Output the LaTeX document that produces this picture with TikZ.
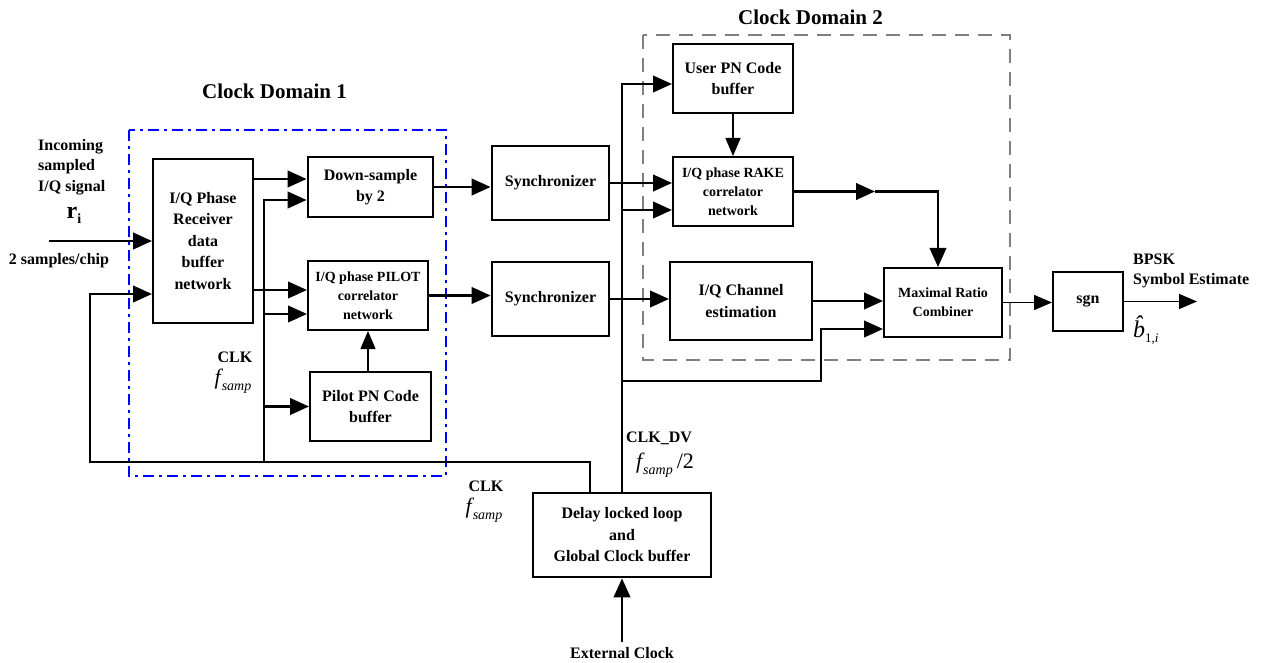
\documentclass[tikz,border=0pt]{standalone}
\usepackage{fontspec}
\setmainfont{Liberation Serif}
\usetikzlibrary{arrows.meta}
% sampling-frequency symbol f_samp
\newcommand{\fsampsym}{{\fontsize{22}{22}\selectfont\mdseries\itshape f}\kern1pt\raisebox{-6pt}{\fontsize{14}{14}\selectfont\mdseries\itshape samp}}
\begin{document}
\begin{tikzpicture}[x=1pt,y=-1pt,
  box/.style={draw, line width=2pt, inner sep=0pt, align=center,
    font=\fontsize{16}{21.5}\selectfont\bfseries},
  heavybox/.style={box, line width=2.8pt},
  smallbox/.style={box, font=\fontsize{14}{19}\selectfont\bfseries},
  wire/.style={line width=2.5pt, line join=miter},
  conn/.style={wire, -{Triangle[length=19pt,width=16.5pt]}},
  thinconn/.style={line width=1.5pt, -{Triangle[length=18pt,width=15pt]}},
  lbl/.style={inner sep=0pt, align=center, font=\fontsize{16}{20.5}\selectfont\bfseries},
  title/.style={inner sep=0pt, font=\fontsize{21}{24}\selectfont\bfseries}]
\useasboundingbox (0,0) rectangle (1264,663);

% clock domains
\draw[blue, line width=2.5pt, dash pattern=on 11pt off 5pt on 3pt off 5pt] (129,130) rectangle (446,476);
\draw[black!50, line width=2.5pt, dash pattern=on 14pt off 9pt] (643,35) rectangle (1010,360);
\node[title] (cd1) at (274.5,91) {Clock Domain 1};
\node[title] (cd2) at (810.5,17) {Clock Domain 2};

% processing blocks
\node[box, minimum width=100, minimum height=164] (recv) at (203,241) {I/Q Phase\\Receiver\\data\\buffer\\network};
\node[heavybox, minimum width=125, minimum height=60] (down) at (370.5,187) {Down-sample\\by 2};
\node[smallbox, minimum width=120, minimum height=69] (pilot) at (368,295.5) {I/Q phase PILOT\\correlator\\network};
\node[box, minimum width=121, minimum height=69] (pilotpn) at (370.5,406.5) {Pilot PN Code\\buffer};
\node[heavybox, minimum width=117, minimum height=74] (sync1) at (550.5,183) {Synchronizer};
\node[heavybox, minimum width=117, minimum height=74] (sync2) at (550.5,299) {Synchronizer};
\node[box, minimum width=120, minimum height=69] (userpn) at (733,78.5) {User PN Code\\buffer};
\node[smallbox, minimum width=120, minimum height=69] (rake) at (733,191.5) {I/Q phase RAKE\\correlator\\network};
\node[box, minimum width=142, minimum height=78] (chan) at (741,301) {I/Q Channel\\estimation};
\node[smallbox, minimum width=118, minimum height=69] (mrc) at (943,302.5) {Maximal Ratio\\Combiner};
\node[box, minimum width=70, minimum height=59] (sgn) at (1088,301.5) {sgn};
\node[heavybox, minimum width=178, minimum height=84] (dll) at (622,535) {Delay locked loop\\and\\Global Clock buffer};

% wire end points and bends
\coordinate (inp) at (49,241);
\coordinate (busL) at (90,462);
\coordinate (busC) at (264,462);
\coordinate (dvR) at (821,381);
\coordinate (rakeMid) at (875,191.5);
\coordinate (out) at (1197,301.5);
\coordinate (ext) at (622,642);

% clock domain 1
\draw[conn] (inp) -- (recv.west);
\draw[conn] ([xshift=-32pt]dll.north) |- (busL) |- ([yshift=-53pt]recv.west);
\draw[conn] (busC) |- ([yshift=-13pt]down.west);
\draw[conn] (busC) |- ([yshift=-18.5pt]pilot.west);
\draw[conn] (busC) |- (pilotpn.west);
\draw[conn] ([yshift=62pt]recv.east) -- ([yshift=8pt]down.west);
\draw[conn] ([yshift=-49pt]recv.east) -- ([yshift=5.5pt]pilot.west);
\draw[thinconn] (pilot.south |- pilotpn.north) -- (pilot.south);
\draw[conn] (down.east) -- (down.east -| sync1.west);
\draw[conn] (pilot.east) -- (pilot.east -| sync2.west);

% clock domain 2
\draw[conn] (sync1.east) -- (sync1.east -| rake.west);
\draw[conn] (sync2.east) -- (sync2.east -| chan.west);
\draw[conn] (dll.north) |- ([yshift=-5.5pt]userpn.west);
\draw[conn] (dll.north) |- ([yshift=-18.5pt]rake.west);
\draw[conn] (dll.north) |- (dvR) |- ([yshift=-26.5pt]mrc.west);
\draw[thinconn] (userpn.south) -- (rake.north);
\draw[conn] (rake.east) -- (rakeMid);
\draw[conn] (rakeMid) -| ([xshift=-5pt]mrc.north);
\draw[conn] (chan.east) -- (chan.east -| mrc.west);
\draw[thinconn] (mrc.east) -- (mrc.east -| sgn.west);
\draw[thinconn] (sgn.east) -- (out);
\draw[conn] (ext) -- (dll.south);

% labels
\node[lbl, align=left, anchor=west] (inc) at (38,167) {Incoming\\sampled\\I/Q signal};
\node[inner sep=0pt] (ri) at (74,215) {\fontsize{24}{24}\selectfont\bfseries r\raisebox{-5pt}{\fontsize{14}{14}\selectfont i}};
\node[lbl] (spc) at (59,261) {2 samples/chip};
\node[lbl] (clk1) at (235,357) {CLK};
\node[inner sep=0pt] (fs1) at (233,381) {\fsampsym};
\node[lbl] (clk2) at (486,486) {CLK};
\node[inner sep=0pt] (fs2) at (484,510) {\fsampsym};
\node[lbl] (clkdv) at (659,438) {CLK\_DV};
\node[inner sep=0pt] (fs3) at (665,465) {\fsampsym\kern4pt{\fontsize{22}{22}\selectfont /2}};
\node[lbl] (extl) at (622,653) {External Clock};
\node[lbl, align=left, anchor=west] (bpsk) at (1133,271) {BPSK\\Symbol Estimate};
\node[inner sep=0pt, anchor=west] (bhat) at (1133,330) {{\fontsize{24}{24}\selectfont\itshape\^{b}}\raisebox{-5pt}{\fontsize{13}{13}\selectfont 1,\textit{i}}};
\end{tikzpicture}
\end{document}
